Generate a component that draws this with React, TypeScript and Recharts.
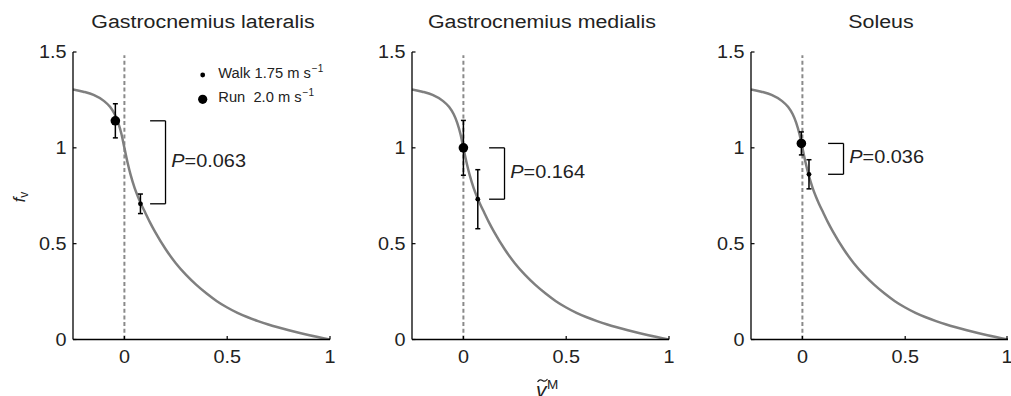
import React from 'react';
import { ComposedChart, Line, Scatter, XAxis, YAxis, ReferenceLine, ReferenceDot, ErrorBar, Legend } from 'recharts';

// force-velocity curve
const curveV = [-0.25, -0.2, -0.15, -0.1, -0.07, -0.047, -0.03, -0.015, 0, 0.015, 0.03, 0.05, 0.066, 0.08, 0.1, 0.125, 0.15, 0.2, 0.25, 0.3, 0.35, 0.4, 0.45, 0.5, 0.55, 0.6, 0.65, 0.7, 0.8, 0.9, 1.0];
const curveF = [1.305, 1.293, 1.276, 1.245, 1.214, 1.175, 1.13, 1.075, 1.0, 0.925, 0.86, 0.79, 0.745, 0.71, 0.665, 0.61, 0.56, 0.472, 0.398, 0.337, 0.285, 0.24, 0.2, 0.167, 0.139, 0.116, 0.096, 0.078, 0.048, 0.022, 0];

const muscles = ['Gastrocnemius lateralis', 'Gastrocnemius medialis', 'Soleus'];
const walkV = [0.078, 0.07, 0.032];
const walkF = [0.708, 0.732, 0.862];
const walkErr = [0.051, 0.154, 0.076];
const runV = [-0.044, 0, -0.005];
const runF = [1.141, 1.0, 1.023];
const runErr = [0.089, 0.143, 0.06];
const pValues = ['0.063', '0.164', '0.036'];

const xTicks = [0, 0.5, 1];
const yTicks = [0, 0.5, 1, 1.5];
const legendNames = ['Walk 1.75 m s', 'Run  2.0 m s'];

const curve = curveV.map((v, i) => ({ v, f: curveF[i] }));

const PANEL_W = 339;
const H = 396;

const YTick = (props: any) => {
  const { x, y, payload } = props;
  return (
    <g>
      <line x1={x} y1={y} x2={x + 3.5} y2={y} stroke="#000" strokeWidth={1.2} />
      <text transform={`translate(${x - 6.5},${y + 6.3}) scale(1.12,1)`} textAnchor="end" fontSize={17.7} fill="#222">
        {String(payload.value)}
      </text>
    </g>
  );
};

const XTick = (props: any) => {
  const { x, y, payload } = props;
  return (
    <g>
      <line x1={x} y1={y} x2={x} y2={y - 3.5} stroke="#000" strokeWidth={1.2} />
      <text transform={`translate(${x},${y + 23.4}) scale(1.12,1)`} textAnchor="middle" fontSize={17.7} fill="#222">
        {String(payload.value)}
      </text>
    </g>
  );
};

const LegendBox = (props: any) => {
  const payload = props.payload ?? [];
  const items = legendNames.filter((n) => payload.some((p: any) => p.value === n));
  return (
    <svg width={150} height={50} style={{ display: 'block' }}>
      {items.map((name: string, i: number) => (
        <g key={name}>
          <circle cx={10.7} cy={13 + i * 24.3} r={i === 0 ? 2.4 : 4.6} fill="#000" />
          <text x={26.3} y={15.7 + i * 24} fontSize={14.7} fill="#222" style={{ whiteSpace: 'pre' }}>
            {name}
            <tspan fontSize={10} dx={1} dy={-6}>−1</tspan>
          </text>
        </g>
      ))}
    </svg>
  );
};

function Panel({ idx }: { idx: number }) {
  const walk = [{ v: walkV[idx], f: walkF[idx], err: walkErr[idx] }];
  const run = [{ v: runV[idx], f: runF[idx], err: runErr[idx] }];
  const top = runF[idx];
  const bot = walkF[idx];
  const width = idx === 2 ? 1011 - 2 * PANEL_W : PANEL_W;
  return (
    <div style={{ position: 'absolute', left: idx * PANEL_W, top: 0 }}>
      <ComposedChart width={width} height={H} margin={{ top: 52, right: width - 330, bottom: 26.5, left: 33 }}>
        <XAxis
          dataKey="v"
          type="number"
          domain={[-0.25, 1]}
          allowDataOverflow
          ticks={xTicks}
          height={30}
          tickSize={0}
          tickMargin={0}
          tickLine={false}
          tick={<XTick />}
          axisLine={{ stroke: '#000', strokeWidth: 1.3 }}
        />
        <YAxis
          dataKey="f"
          type="number"
          domain={[0, 1.5]}
          allowDataOverflow
          ticks={yTicks}
          width={40}
          tickSize={0}
          tickMargin={0}
          tickLine={false}
          tick={<YTick />}
          axisLine={{ stroke: '#000', strokeWidth: 1.3 }}
        />
        <ReferenceLine
          segment={[{ x: 0, y: 0 }, { x: 0, y: 1.483 }]}
          stroke="#8a8a8a"
          strokeWidth={2}
          strokeDasharray="4 2.7"
        />
        <Line
          data={curve}
          dataKey="f"
          type="monotone"
          stroke="#7f7f7f"
          strokeWidth={2.5}
          dot={false}
          legendType="none"
          isAnimationActive={false}
        />
        <ReferenceLine segment={[{ x: 0.125, y: top }, { x: 0.2, y: top }]} stroke="#000" strokeWidth={1.3} />
        <ReferenceLine segment={[{ x: 0.2, y: top }, { x: 0.2, y: bot }]} stroke="#000" strokeWidth={1.3} />
        <ReferenceLine segment={[{ x: 0.125, y: bot }, { x: 0.2, y: bot }]} stroke="#000" strokeWidth={1.3} />
        <ReferenceDot
          x={0.228}
          y={(top + bot) / 2}
          r={0}
          ifOverflow="visible"
          shape={(p: any) => (
            <text transform={`translate(${p.cx},${p.cy + 4.5}) scale(1.07,1)`} fontSize={18.6} fill="#222">
              <tspan fontStyle="italic">P</tspan>={pValues[idx]}
            </text>
          )}
        />
        <Scatter
          name={legendNames[0]}
          data={walk}
          dataKey="f"
          isAnimationActive={false}
          shape={(p: any) => <circle cx={p.cx} cy={p.cy} r={2.4} fill="#000" />}
        >
          <ErrorBar dataKey="err" direction="y" width={2.5} stroke="#000" strokeWidth={1.5} isAnimationActive={false} />
        </Scatter>
        <Scatter
          name={legendNames[1]}
          data={run}
          dataKey="f"
          isAnimationActive={false}
          shape={(p: any) => <circle cx={p.cx} cy={p.cy} r={4.8} fill="#000" />}
        >
          <ErrorBar dataKey="err" direction="y" width={2.5} stroke="#000" strokeWidth={1.5} isAnimationActive={false} />
        </Scatter>
        {idx === 0 && (
          <Legend
            layout="vertical"
            align="center"
            verticalAlign="middle"
            content={<LegendBox />}
            wrapperStyle={{ left: 192, top: 62, width: 150, height: 50 }}
          />
        )}
        <text transform="translate(203,27.5) scale(1.15,1)" textAnchor="middle" fontSize={18.6} fill="#222">
          {muscles[idx]}
        </text>
        {idx === 0 && (
          <text transform="translate(25,197) rotate(-90)" textAnchor="middle" fontSize={17} fill="#222">
            <tspan fontStyle="italic">f</tspan>
            <tspan fontSize={12} dy={3}>v</tspan>
          </text>
        )}
        {idx === 1 && (
          <g fill="#222">
            <text x={197} y={396.5} fontSize={21} fontStyle="italic">v</text>
            <path d="M198.5,382 q2.5,-3.5 5,-1.5 t5,-1.5" stroke="#222" strokeWidth={1.2} fill="none" />
            <text x={208} y={388.5} fontSize={13.5}>M</text>
          </g>
        )}
      </ComposedChart>
    </div>
  );
}

export default function App() {
  return (
    <div style={{ position: 'relative', width: 1011, height: H, overflow: 'hidden', background: '#fff', fontFamily: '"Liberation Sans", Arial, sans-serif' }}>
      <style>{'body{margin:0}'}</style>
      {[0, 1, 2].map((i) => (
        <Panel key={i} idx={i} />
      ))}
    </div>
  );
}
